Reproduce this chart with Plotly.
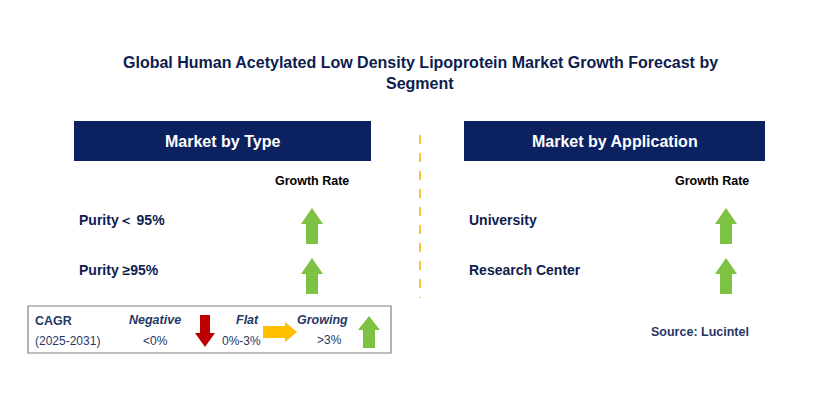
import plotly.graph_objects as go

# === Data ===
type_segments = ["Purity\uff1c 95%", "Purity \u226595%"]
type_trend = ["up", "up"]
app_segments = ["University", "Research Center"]
app_trend = ["up", "up"]
title_lines = ["Global Human Acetylated Low Density Lipoprotein Market Growth Forecast by", "Segment"]

NAVY = "#0c2260"
TXT = "#0e1d4f"
COLORS = {"up": "#7dc242", "down": "#c00000", "flat": "#ffc000"}

fig = go.Figure()
shapes, ann = [], []


def arrow(cx, cy, kind, L=36, hw=11, sw=6, head=16):
    # arrow path in pixel coords (y grows downward)
    if kind == "up":
        t, b = cy - L / 2, cy + L / 2
        p = (f"M{cx-sw},{b} L{cx-sw},{t+head} L{cx-hw},{t+head} L{cx},{t} "
             f"L{cx+hw},{t+head} L{cx+sw},{t+head} L{cx+sw},{b} Z")
    elif kind == "down":
        t, b = cy - L / 2, cy + L / 2
        p = (f"M{cx-sw},{t} L{cx-sw},{b-head} L{cx-hw},{b-head} L{cx},{b} "
             f"L{cx+hw},{b-head} L{cx+sw},{b-head} L{cx+sw},{t} Z")
    else:
        l, r = cx - L / 2, cx + L / 2
        p = (f"M{l},{cy-sw} L{r-head},{cy-sw} L{r-head},{cy-hw} L{r},{cy} "
             f"L{r-head},{cy+hw} L{r-head},{cy+sw} L{l},{cy+sw} Z")
    shapes.append(dict(type="path", path=p, fillcolor=COLORS[kind], line=dict(width=0)))


def text(x, y, s, size=13, color=TXT, bold=True, xanchor="left", italic=False):
    if bold:
        s = f"<b>{s}</b>"
    if italic:
        s = f"<i>{s}</i>"
    ann.append(dict(x=x, y=y, text=s, showarrow=False, xanchor=xanchor, yanchor="middle",
                    font=dict(size=size, color=color, family="Arial")))


# title
text(420, 62, title_lines[0], size=16, xanchor="center")
text(420, 83, title_lines[1], size=16, xanchor="center")

# header boxes
for x0, x1, lab in [(74, 371, "Market by Type"), (464, 765, "Market by Application")]:
    shapes.append(dict(type="rect", x0=x0, x1=x1, y0=121, y1=161, fillcolor=NAVY, line=dict(width=0)))
    text((x0 + x1) / 2, 141, lab, size=16, color="white", xanchor="center")

# divider
shapes.append(dict(type="line", x0=420, x1=420, y0=135, y1=298,
                   line=dict(color="#f0b400", width=1.5, dash="dash")))

text(312, 181, "Growth Rate", size=12.5, color="black", xanchor="center")
text(712, 181, "Growth Rate", size=12.5, color="black", xanchor="center")

rows_y = [220, 270]
for y, seg, tr in zip(rows_y, type_segments, type_trend):
    text(77, y, seg, size=14)
    arrow(312, y + 6, tr)
for y, seg, tr in zip(rows_y, app_segments, app_trend):
    text(467, y, seg, size=14)
    arrow(726, y + 6, tr)

# legend box
shapes.append(dict(type="rect", x0=28, x1=391, y0=306, y1=353, line=dict(color="#808080", width=1.2)))
text(33, 321, "CAGR", size=12.5, color="#1f3864")
text(33, 341, "(2025-2031)", size=12, color="#1f3864", bold=False)
text(155, 320, "Negative", size=12.5, color="#1f3864", xanchor="center", italic=True)
text(155, 341, "<0%", size=12, color="#1f3864", bold=False, xanchor="center")
arrow(205, 331, "down", L=32, hw=10, sw=5, head=14)
text(247, 320, "Flat", size=12.5, color="#1f3864", xanchor="center", italic=True)
text(241, 341, "0%-3%", size=12, color="#1f3864", bold=False, xanchor="center")
arrow(280, 332, "flat", L=34, hw=10, sw=6, head=12)
text(322, 320, "Growing", size=12.5, color="#1f3864", xanchor="center", italic=True)
text(329, 340, ">3%", size=12, color="#1f3864", bold=False, xanchor="center")
arrow(369, 332, "up", L=32, hw=11, sw=6, head=14)

text(700, 332, "Source: Lucintel", size=12.5, color="#1f3864", xanchor="center")

# page has an 8px body margin, so shift the canvas to compensate
fig.update_layout(
    width=829, height=401, margin=dict(l=0, r=0, t=0, b=0),
    paper_bgcolor="white", plot_bgcolor="white",
    xaxis=dict(range=[8, 837], visible=False, fixedrange=True),
    yaxis=dict(range=[409, 8], visible=False, fixedrange=True),
    shapes=shapes, annotations=ann, showlegend=False,
)

fig.write_html("out.html")
